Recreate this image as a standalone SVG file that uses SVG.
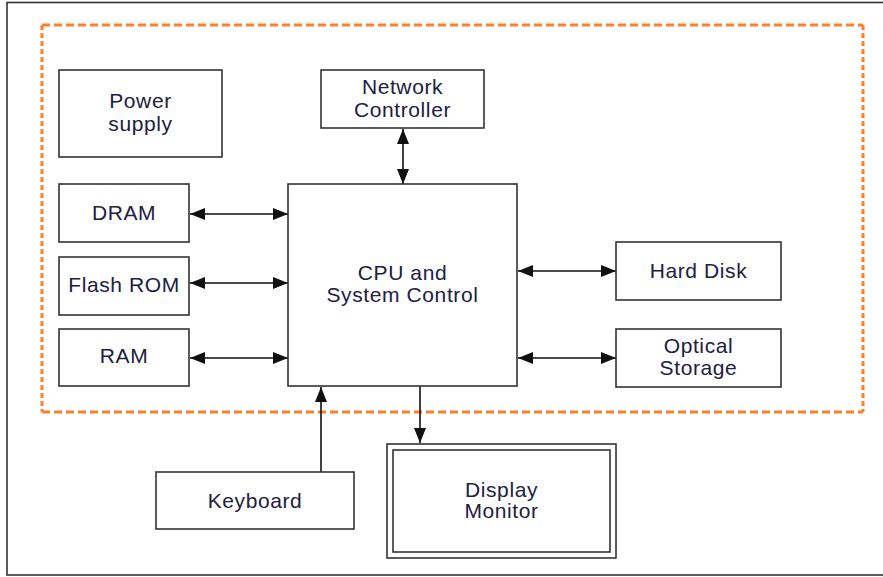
<svg xmlns="http://www.w3.org/2000/svg" width="883" height="577" viewBox="0 0 883 577">
<style>
.box{fill:#fff;stroke:#333;stroke-width:1.6}
.t{font-family:"Liberation Sans",Arial,sans-serif;font-size:21px;fill:#20203f;text-anchor:middle;letter-spacing:0.6px}
.c{stroke:#111;stroke-width:1.6;fill:none}
.dh{stroke:#ff7f2a;stroke-width:3;stroke-dasharray:8 4;fill:none}
.dv{stroke:#ff7f2a;stroke-width:3;stroke-dasharray:5 3;fill:none}
</style>
<defs>
<marker id="a" viewBox="0 0 15 12" refX="15" refY="6" markerWidth="15" markerHeight="12" markerUnits="userSpaceOnUse" orient="auto-start-reverse">
<path d="M0,0 L15,6 L0,12 z" fill="#111"/>
</marker>
</defs>
<rect x="7" y="2.5" width="880" height="572.5" fill="#fff" stroke="#333" stroke-width="1.6"/>
<g id="boundary">
<line class="dh" x1="42" y1="25" x2="863" y2="25"/>
<line class="dh" x1="42" y1="412" x2="863" y2="412"/>
<line class="dv" x1="42" y1="25" x2="42" y2="412"/>
<line class="dv" x1="863" y1="25" x2="863" y2="412"/>
</g>
<g id="connectors">
<line class="c" x1="403" y1="129" x2="403" y2="184" marker-start="url(#a)" marker-end="url(#a)"/>
<line class="c" x1="190" y1="214" x2="288" y2="214" marker-start="url(#a)" marker-end="url(#a)"/>
<line class="c" x1="190" y1="283" x2="288" y2="283" marker-start="url(#a)" marker-end="url(#a)"/>
<line class="c" x1="190" y1="358" x2="288" y2="358" marker-start="url(#a)" marker-end="url(#a)"/>
<line class="c" x1="518" y1="271" x2="616" y2="271" marker-start="url(#a)" marker-end="url(#a)"/>
<line class="c" x1="518" y1="358" x2="616" y2="358" marker-start="url(#a)" marker-end="url(#a)"/>
<line class="c" x1="321" y1="472" x2="321" y2="387" marker-end="url(#a)"/>
<line class="c" x1="420" y1="386" x2="420" y2="443" marker-end="url(#a)"/>
</g>
<g id="power">
<rect class="box" x="59" y="70" width="163" height="87"/>
<text class="t" x="140.5" y="108">Power</text>
<text class="t" x="140.5" y="131">supply</text>
</g>
<g id="network">
<rect class="box" x="321" y="70" width="163" height="58"/>
<text class="t" x="402.5" y="94">Network</text>
<text class="t" x="402.5" y="117">Controller</text>
</g>
<g id="dram">
<rect class="box" x="59" y="184" width="130" height="58"/>
<text class="t" x="124" y="220">DRAM</text>
</g>
<g id="flash">
<rect class="box" x="59" y="257" width="130" height="58"/>
<text class="t" x="124" y="292">Flash ROM</text>
</g>
<g id="ram">
<rect class="box" x="59" y="329" width="130" height="57"/>
<text class="t" x="124" y="363">RAM</text>
</g>
<g id="cpu">
<rect class="box" x="288" y="184" width="229" height="202"/>
<text class="t" x="402.5" y="280">CPU and</text>
<text class="t" x="402.5" y="302">System Control</text>
</g>
<g id="harddisk">
<rect class="box" x="616" y="242" width="165" height="58"/>
<text class="t" x="698.5" y="278">Hard Disk</text>
</g>
<g id="optical">
<rect class="box" x="616" y="329" width="165" height="58"/>
<text class="t" x="698.5" y="353">Optical</text>
<text class="t" x="698.5" y="375">Storage</text>
</g>
<g id="keyboard">
<rect class="box" x="156" y="472" width="198" height="57"/>
<text class="t" x="255" y="508">Keyboard</text>
</g>
<g id="display">
<rect class="box" x="387" y="444" width="229" height="114"/>
<rect class="box" x="393" y="450" width="217" height="102"/>
<text class="t" x="501.5" y="497">Display</text>
<text class="t" x="501.5" y="518">Monitor</text>
</g>
</svg>
